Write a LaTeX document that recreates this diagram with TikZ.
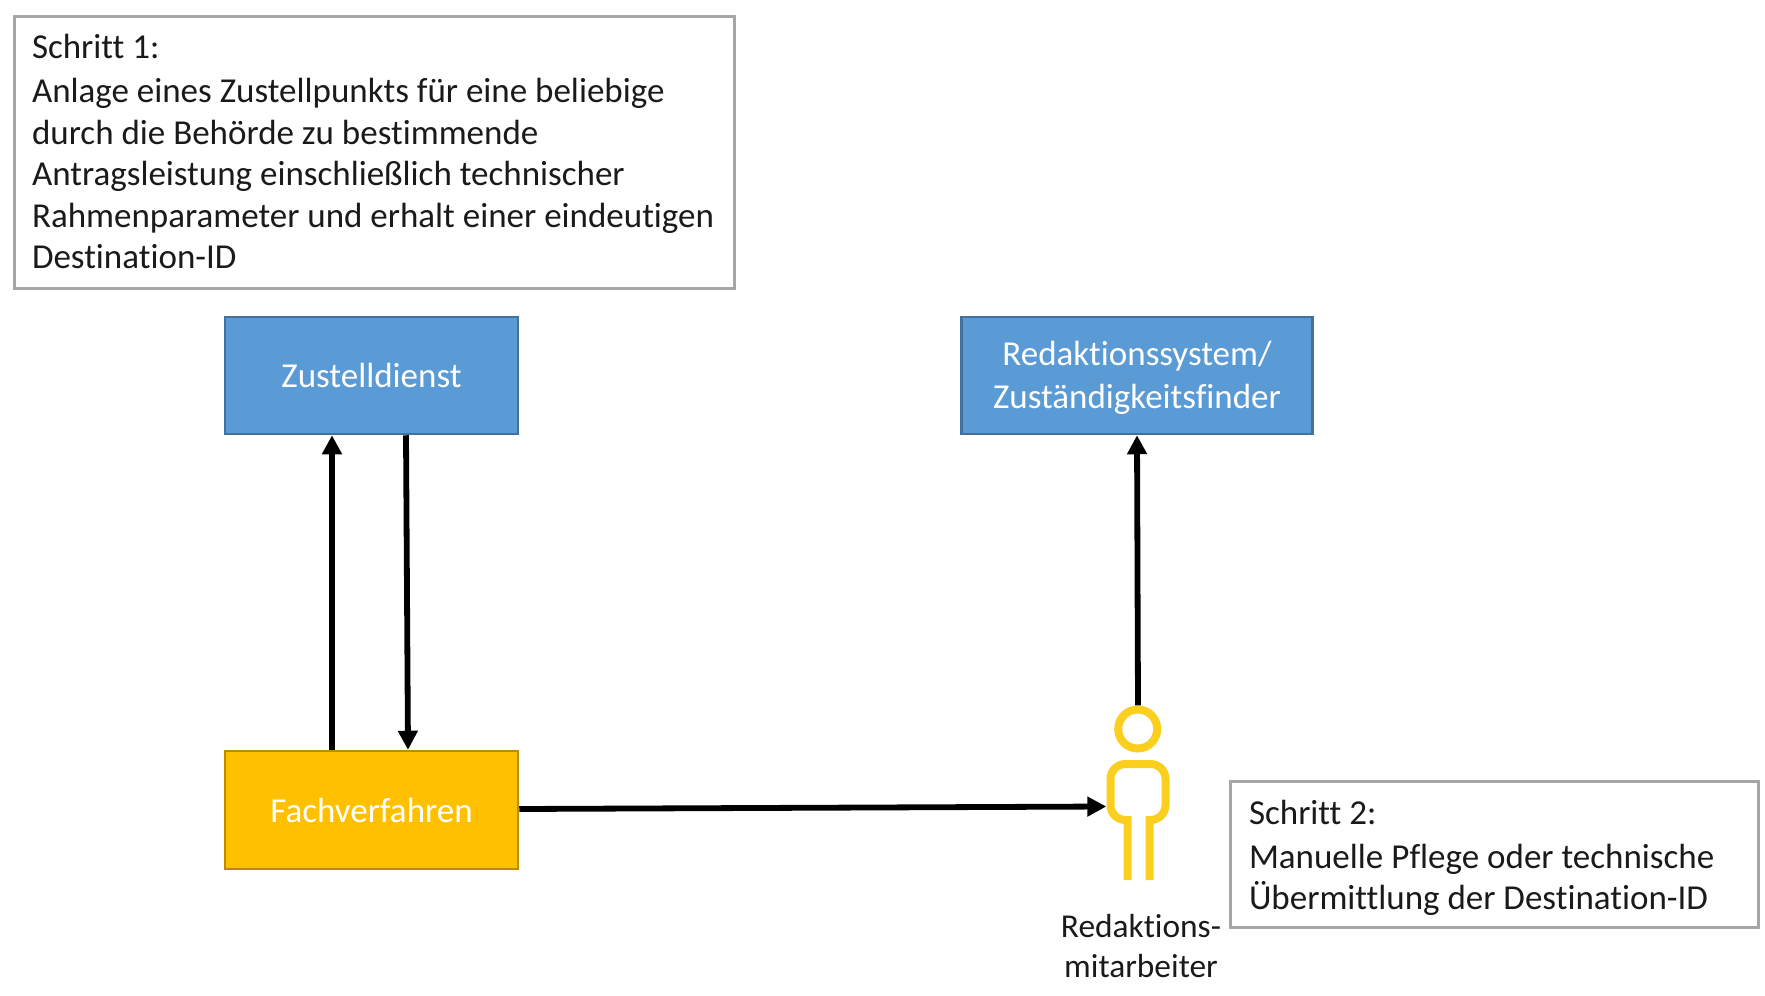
\documentclass[tikz,border=0pt]{standalone}
\usepackage{fontspec}
\setmainfont[Ligatures=NoCommon]{Carlito}
\usetikzlibrary{arrows.meta}
\newcommand{\bigfs}{\fontsize{35}{41.6}\selectfont}
\newcommand{\boxfs}{\fontsize{35}{43}\selectfont}
\newcommand{\smallfs}{\fontsize{33.4}{39.4}\selectfont}
\definecolor{noteline}{HTML}{A6A6A6}
\definecolor{blueF}{HTML}{5B9BD5}
\definecolor{blueD}{HTML}{41719C}
\definecolor{yelF}{HTML}{FFC000}
\definecolor{yelD}{HTML}{BC8C00}
\definecolor{persY}{HTML}{FBCF1E}
\definecolor{txt}{HTML}{1A1A1A}
\tikzset{
  x=1pt,y=-1pt,
  note/.style={draw=noteline,line width=3pt,fill=white,text=txt,align=flush left,inner xsep=0pt,inner ysep=0pt,font=\bigfs},
  bluebox/.style={draw=blueD,line width=2.5pt,fill=blueF,text=white,align=center,inner sep=0pt,font=\boxfs},
  yelbox/.style={draw=yelD,line width=2.5pt,fill=yelF,text=white,align=center,inner sep=0pt,font=\boxfs},
  conn/.style={draw=black,line width=5.8pt,-{Triangle[length=19pt,width=19pt]}},
  figline/.style={draw=persY,line width=8pt},
}
\begin{document}
\begin{tikzpicture}
\useasboundingbox (0,0) rectangle (1765,996);
\node[note,minimum width=720pt,minimum height=272pt,text width=684pt] (s1) at (374,152) {Schritt 1:\\[2.5pt]Anlage eines Zustellpunkts für eine beliebige\\durch die Behörde zu bestimmende\\Antragsleistung einschließlich technischer\\Rahmenparameter und erhalt einer eindeutigen\\Destination-ID\rule[-1pt]{0pt}{1pt}};
\node[note,minimum width=528pt,minimum height=146pt,text width=490pt] (s2) at (1494,854) {\rule{0pt}{32.6pt}Schritt 2:\\[1.5pt]Manuelle Pflege oder technische\\Übermittlung der Destination-ID};
\node[bluebox,minimum width=293pt,minimum height=117pt] (zd) at (371.5,375.5) {Zustelldienst};
\node[bluebox,minimum width=351pt,minimum height=117pt] (rs) at (1137,375.5) {\rule{0pt}{30pt}Redaktionssystem/\\Zuständigkeitsfinder};
\node[yelbox,minimum width=293pt,minimum height=118pt] (fv) at (371.5,810) {Fachverfahren};
\node[minimum width=63pt,minimum height=175pt,inner sep=0pt] (mb) at (1138,793) {};
\draw[figline] (1137.7,729) circle (19.5);
\draw[figline,line join=miter] (1127.7,880) -- (1127.7,820) -- (1125.5,820) arc[start angle=90,end angle=180,radius=15] -- (1110.5,779) arc[start angle=180,end angle=270,radius=15] -- (1150.5,764) arc[start angle=270,end angle=360,radius=15] -- (1165.5,805) arc[start angle=0,end angle=90,radius=15] -- (1149.5,820) -- (1149.5,880);
\node[text=txt,align=center,inner sep=0pt,font=\smallfs] (lbl) at (1141,946) {Redaktions-\\mitarbeiter};
\coordinate (a1s) at ([xshift=-39.5pt]fv.north);
\coordinate (a1e) at ([xshift=-39.5pt]zd.south);
\coordinate (a2s) at ([xshift=34.5pt]zd.south);
\coordinate (a2e) at ([xshift=36.5pt]fv.north);
\coordinate (a3s) at ([yshift=1pt]fv.east);
\coordinate (a3e) at (mb.west |- 0,806.5);
\coordinate (a4s) at (mb.north);
\coordinate (a4e) at (rs.south);
\draw[conn] (a1s) -- (a1e);
\draw[conn] (a2s) -- (a2e);
\draw[conn] (a3s) -- (a3e);
\draw[conn] (a4s) -- (a4e);
\end{tikzpicture}
\end{document}
